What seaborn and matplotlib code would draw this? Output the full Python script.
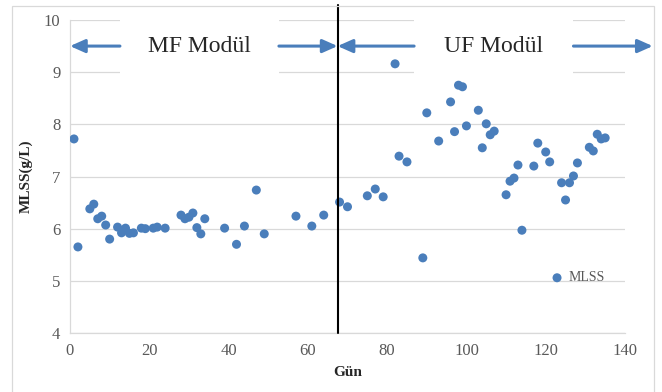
import numpy as np
import pandas as pd
import seaborn as sns
import matplotlib.pyplot as plt
from matplotlib.patches import Rectangle

# MF modül dönemi
mf_gun = [1, 2, 5, 6, 7, 8, 9, 10, 12, 13, 14, 15, 16, 18, 19, 21, 22, 24,
          28, 29, 30, 31, 32, 33, 34, 39, 42, 44, 47, 49, 57, 61, 64]
mf_mlss = [7.72, 5.65, 6.38, 6.47, 6.19, 6.24, 6.07, 5.80, 6.03, 5.92, 6.01, 5.91,
           5.92, 6.01, 6.00, 6.01, 6.03, 6.01, 6.26, 6.19, 6.22, 6.30, 6.02, 5.90,
           6.19, 6.01, 5.70, 6.05, 6.74, 5.90, 6.24, 6.05, 6.26]

# UF modül dönemi
uf_gun = [68, 70, 75, 77, 79, 82, 83, 85, 89, 90, 93, 96, 97, 98, 99, 100, 103,
          104, 105, 106, 107, 110, 111, 112, 113, 114, 117, 118, 120, 121, 124,
          125, 126, 127, 128, 131, 132, 133, 134, 135]
uf_mlss = [6.51, 6.42, 6.63, 6.76, 6.61, 9.16, 7.39, 7.28, 5.44, 8.22, 7.68, 8.43,
           7.86, 8.75, 8.72, 7.97, 8.27, 7.55, 8.01, 7.80, 7.87, 6.65, 6.91, 6.97,
           7.22, 5.97, 7.20, 7.64, 7.47, 7.28, 6.88, 6.55, 6.88, 7.01, 7.26, 7.56,
           7.49, 7.81, 7.72, 7.74]

gecis_gunu = 67.5
x_ticks = [0, 20, 40, 60, 80, 100, 120, 140]
y_ticks = [4, 5, 6, 7, 8, 9, 10]

df = pd.DataFrame({"Gün": mf_gun + uf_gun, "MLSS": mf_mlss + uf_mlss})

sns.set_style("white")
plt.rcParams["font.family"] = ["Liberation Serif", "DejaVu Serif"]

fig = plt.figure(figsize=(6.62, 3.92), dpi=100)
ax = fig.add_axes([70 / 662, 1 - 333 / 392, 555 / 662, 313 / 392])

blue = "#4A7EBB"
grid_c = "#D9D9D9"

sns.scatterplot(data=df, x="Gün", y="MLSS", ax=ax, color=blue, s=42,
                edgecolor="none", label="MLSS", zorder=3)

ax.set_xlim(0, 140)
ax.set_ylim(4, 10)
ax.set_xticks(x_ticks)
ax.set_yticks(y_ticks)
ax.tick_params(length=0, labelsize=12, colors="#595959", pad=7)
ax.yaxis.grid(True, color=grid_c, lw=0.9, zorder=0)
ax.xaxis.grid(False)
for s in ["top", "right"]:
    ax.spines[s].set_visible(False)
for s in ["left", "bottom"]:
    ax.spines[s].set_color(grid_c)
    ax.spines[s].set_linewidth(0.9)

ax.set_xlabel("Gün", fontsize=11, fontweight="bold", labelpad=5)
ax.set_ylabel("MLSS(g/L)", fontsize=11, fontweight="bold", labelpad=8)

# geçiş çizgisi
ax.plot([gecis_gunu, gecis_gunu], [4, 10.29], color="black", lw=1.5,
        clip_on=False, zorder=4)

# modül etiketleri (beyaz kutular + oklar)
for x0, x1 in [(12.6, 52.7), (86.8, 127)]:
    ax.add_patch(Rectangle((x0, 8.95), x1 - x0, 1.1, facecolor="white",
                           edgecolor="none", zorder=2, clip_on=False))
ax.text(32.7, 9.5, "MF Modül", fontsize=17, ha="center", va="center", zorder=5)
ax.text(106.8, 9.5, "UF Modül", fontsize=17, ha="center", va="center", zorder=5)

okprops = dict(arrowstyle="-|>,head_length=0.9,head_width=0.4", color=blue,
               lw=2.2, shrinkA=0, shrinkB=0)
for tail, tip in [(12.6, 0), (52.7, gecis_gunu), (86.8, gecis_gunu), (127, 147)]:
    ax.annotate("", xy=(tip, 9.5), xytext=(tail, 9.5), arrowprops=okprops,
                annotation_clip=False, zorder=5)

leg = ax.legend(loc="center left", bbox_to_anchor=(0.84, 0.176), frameon=False,
                fontsize=10, handletextpad=-0.2, borderpad=0, markerscale=1.0)
for t in leg.get_texts():
    t.set_color("#595959")

# çerçeve
fig.patches.append(Rectangle((12 / 662, -0.01), 642 / 662, 1 - 6 / 392 + 0.01,
                             transform=fig.transFigure, fill=False,
                             edgecolor=grid_c, lw=0.9))

fig.savefig("out.png", dpi=100)
